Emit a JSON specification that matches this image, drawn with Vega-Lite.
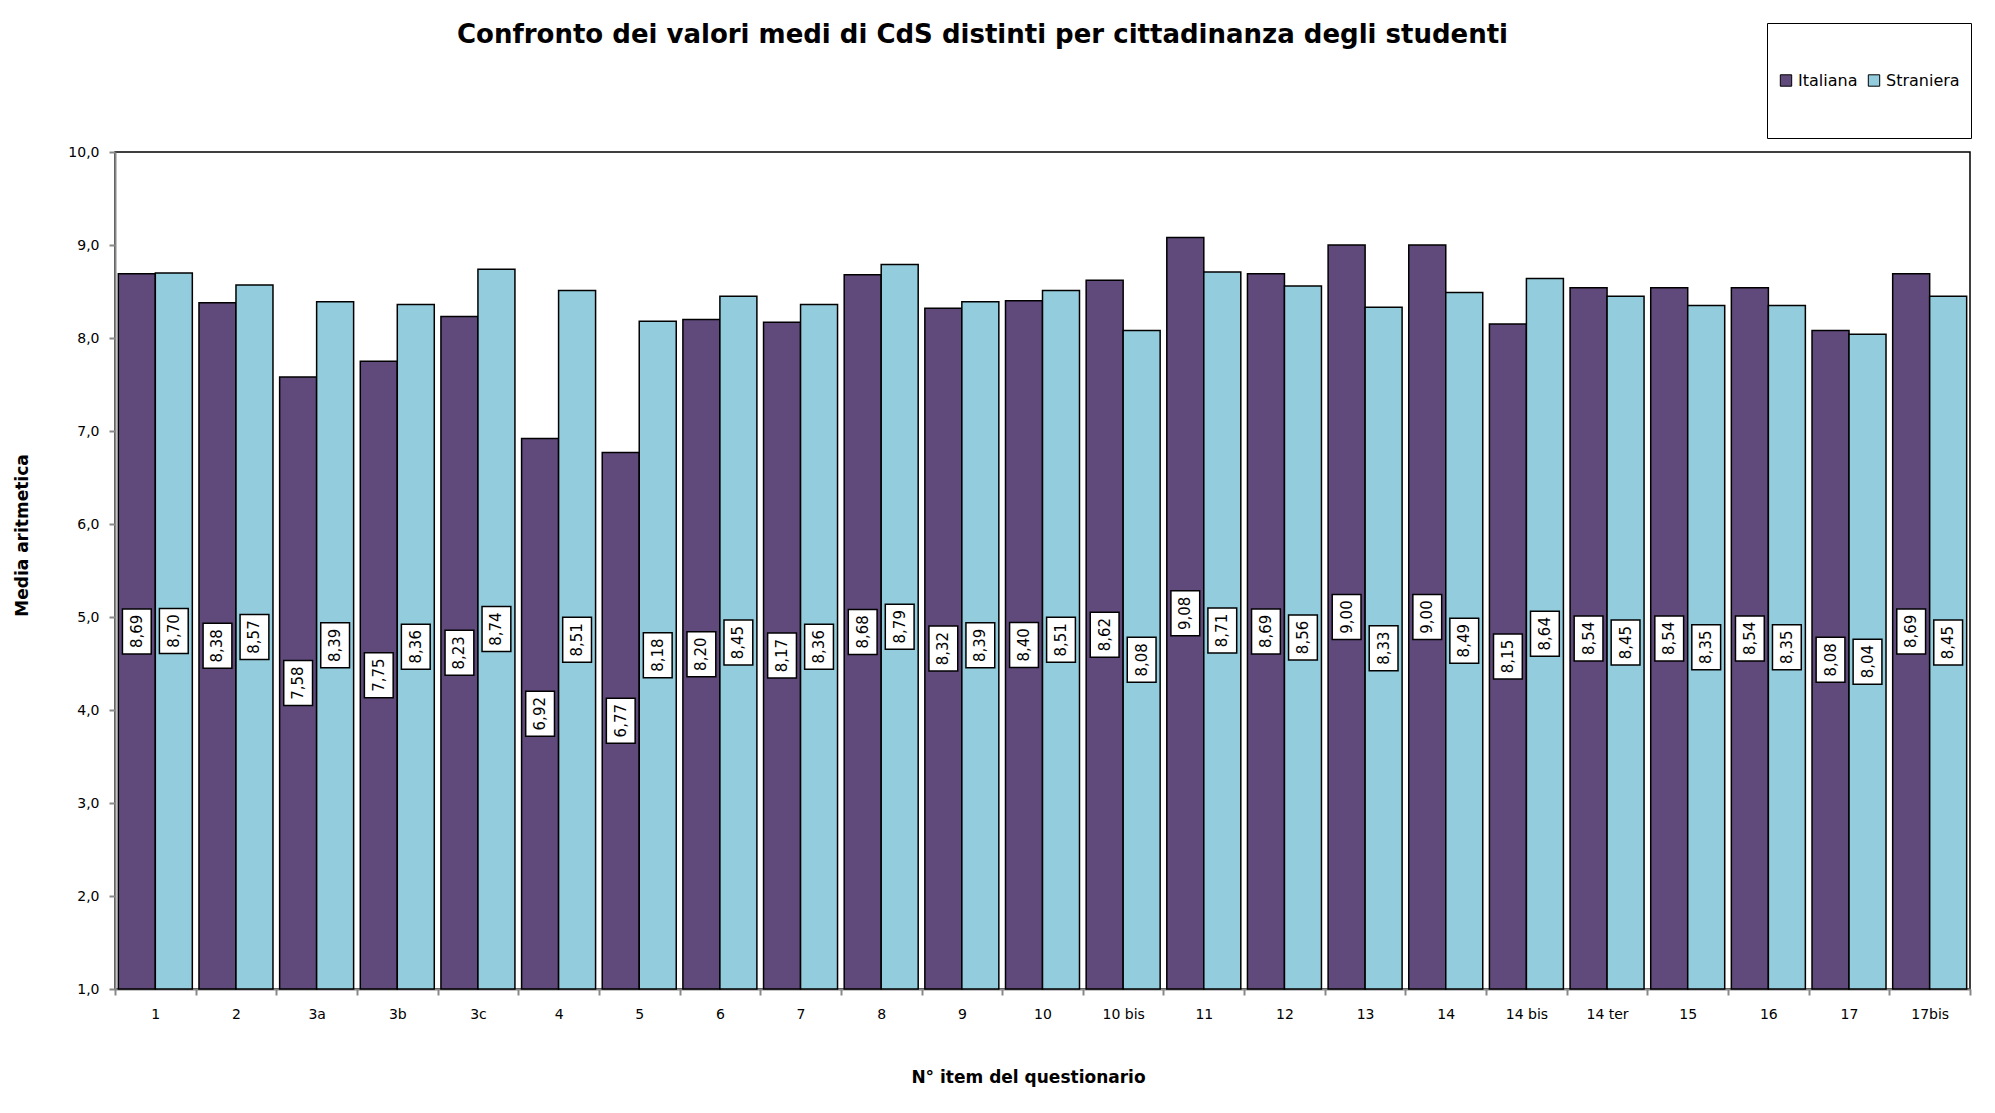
{
  "$schema": "https://vega.github.io/schema/vega-lite/v6.json",
  "width": 1855,
  "height": 837,
  "autosize": {"type": "none"},
  "padding": {"left": 115, "top": 152, "right": 25, "bottom": 124},
  "background": "white",
  "title": {
    "text": "Confronto dei valori medi di CdS distinti per cittadinanza degli studenti",
    "font": "DejaVu Sans",
    "fontSize": 26,
    "fontWeight": "bold",
    "color": "black",
    "anchor": "middle",
    "frame": "group",
    "dx": -60,
    "offset": 0,
    "dy": 25
  },
  "config": {
    "locale": {"number": {"decimal": ",", "thousands": ".", "grouping": [3], "currency": ["", " €"]}},
    "view": {"stroke": "black", "strokeWidth": 1.5},
    "axis": {
      "labelFont": "DejaVu Sans",
      "labelFontSize": 14,
      "labelColor": "black",
      "titleFont": "DejaVu Sans",
      "titleFontSize": 17,
      "titleFontWeight": "bold",
      "titleColor": "black",
      "domainColor": "#888888",
      "domainWidth": 2,
      "tickColor": "#888888",
      "tickWidth": 2,
      "tickSize": 6,
      "grid": false
    }
  },
  "data": {
    "values": [
      {"item": "1", "gruppo": "Italiana", "valore": 8.69},
      {"item": "1", "gruppo": "Straniera", "valore": 8.70},
      {"item": "2", "gruppo": "Italiana", "valore": 8.38},
      {"item": "2", "gruppo": "Straniera", "valore": 8.57},
      {"item": "3a", "gruppo": "Italiana", "valore": 7.58},
      {"item": "3a", "gruppo": "Straniera", "valore": 8.39},
      {"item": "3b", "gruppo": "Italiana", "valore": 7.75},
      {"item": "3b", "gruppo": "Straniera", "valore": 8.36},
      {"item": "3c", "gruppo": "Italiana", "valore": 8.23},
      {"item": "3c", "gruppo": "Straniera", "valore": 8.74},
      {"item": "4", "gruppo": "Italiana", "valore": 6.92},
      {"item": "4", "gruppo": "Straniera", "valore": 8.51},
      {"item": "5", "gruppo": "Italiana", "valore": 6.77},
      {"item": "5", "gruppo": "Straniera", "valore": 8.18},
      {"item": "6", "gruppo": "Italiana", "valore": 8.20},
      {"item": "6", "gruppo": "Straniera", "valore": 8.45},
      {"item": "7", "gruppo": "Italiana", "valore": 8.17},
      {"item": "7", "gruppo": "Straniera", "valore": 8.36},
      {"item": "8", "gruppo": "Italiana", "valore": 8.68},
      {"item": "8", "gruppo": "Straniera", "valore": 8.79},
      {"item": "9", "gruppo": "Italiana", "valore": 8.32},
      {"item": "9", "gruppo": "Straniera", "valore": 8.39},
      {"item": "10", "gruppo": "Italiana", "valore": 8.40},
      {"item": "10", "gruppo": "Straniera", "valore": 8.51},
      {"item": "10 bis", "gruppo": "Italiana", "valore": 8.62},
      {"item": "10 bis", "gruppo": "Straniera", "valore": 8.08},
      {"item": "11", "gruppo": "Italiana", "valore": 9.08},
      {"item": "11", "gruppo": "Straniera", "valore": 8.71},
      {"item": "12", "gruppo": "Italiana", "valore": 8.69},
      {"item": "12", "gruppo": "Straniera", "valore": 8.56},
      {"item": "13", "gruppo": "Italiana", "valore": 9.00},
      {"item": "13", "gruppo": "Straniera", "valore": 8.33},
      {"item": "14", "gruppo": "Italiana", "valore": 9.00},
      {"item": "14", "gruppo": "Straniera", "valore": 8.49},
      {"item": "14 bis", "gruppo": "Italiana", "valore": 8.15},
      {"item": "14 bis", "gruppo": "Straniera", "valore": 8.64},
      {"item": "14 ter", "gruppo": "Italiana", "valore": 8.54},
      {"item": "14 ter", "gruppo": "Straniera", "valore": 8.45},
      {"item": "15", "gruppo": "Italiana", "valore": 8.54},
      {"item": "15", "gruppo": "Straniera", "valore": 8.35},
      {"item": "16", "gruppo": "Italiana", "valore": 8.54},
      {"item": "16", "gruppo": "Straniera", "valore": 8.35},
      {"item": "17", "gruppo": "Italiana", "valore": 8.08},
      {"item": "17", "gruppo": "Straniera", "valore": 8.04},
      {"item": "17bis", "gruppo": "Italiana", "valore": 8.69},
      {"item": "17bis", "gruppo": "Straniera", "valore": 8.45}
    ]
  },
  "encoding": {
    "x": {
      "field": "item",
      "type": "nominal",
      "sort": null,
      "scale": {"paddingInner": 0, "paddingOuter": 0},
      "axis": {
        "title": "N° item del questionario",
        "labelAngle": 0,
        "tickBand": "extent",
        "labelPadding": 12,
        "titlePadding": 48,
        "titleX": 913
      }
    },
    "xOffset": {
      "field": "gruppo",
      "type": "nominal",
      "scale": {"paddingInner": 0, "paddingOuter": 0.09}
    }
  },
  "layer": [
    {
      "mark": {"type": "bar", "stroke": "black", "strokeWidth": 1.5},
      "encoding": {
        "y": {
          "field": "valore",
          "type": "quantitative",
          "scale": {"domain": [1, 10], "zero": false, "nice": false},
          "axis": {
            "title": "Media aritmetica",
            "format": ".1f",
            "values": [1, 2, 3, 4, 5, 6, 7, 8, 9, 10],
            "labelPadding": 10,
            "titleX": -84,
            "titleY": 383
          }
        },
        "y2": {"datum": 1},
        "color": {
          "field": "gruppo",
          "type": "nominal",
          "scale": {"domain": ["Italiana", "Straniera"], "range": ["#604A7B", "#93CDDD"]},
          "legend": {
            "title": null,
            "orient": "none",
            "legendX": 1652,
            "legendY": -129,
            "direction": "horizontal",
            "strokeColor": "black",
            "fillColor": "white",
            "padding": 11,
            "clipHeight": 93,
            "symbolType": "square",
            "symbolSize": 130,
            "symbolStrokeColor": "black",
            "symbolStrokeWidth": 1,
            "symbolOpacity": 1,
            "labelFont": "DejaVu Sans",
            "labelFontSize": 16,
            "labelColor": "black",
            "labelOffset": 4,
            "columnPadding": 8
          }
        }
      }
    },
    {
      "mark": {
        "type": "point",
        "shape": "M-0.64,-1H0.64V1H-0.64Z",
        "size": 2025,
        "filled": true,
        "fill": "white",
        "stroke": "black",
        "strokeWidth": 1.5,
        "opacity": 1
      },
      "encoding": {
        "y": {
          "field": "valore",
          "type": "quantitative",
          "scale": {"domain": [1, 19], "zero": false, "nice": false},
          "axis": null
        }
      }
    },
    {
      "mark": {
        "type": "text",
        "angle": 270,
        "font": "DejaVu Sans",
        "fontSize": 15,
        "color": "black",
        "align": "center",
        "baseline": "middle"
      },
      "encoding": {
        "y": {
          "field": "valore",
          "type": "quantitative",
          "scale": {"domain": [1, 19], "zero": false, "nice": false},
          "axis": null
        },
        "text": {"field": "valore", "type": "quantitative", "format": ".2f"}
      }
    }
  ],
  "resolve": {"scale": {"y": "independent"}}
}
